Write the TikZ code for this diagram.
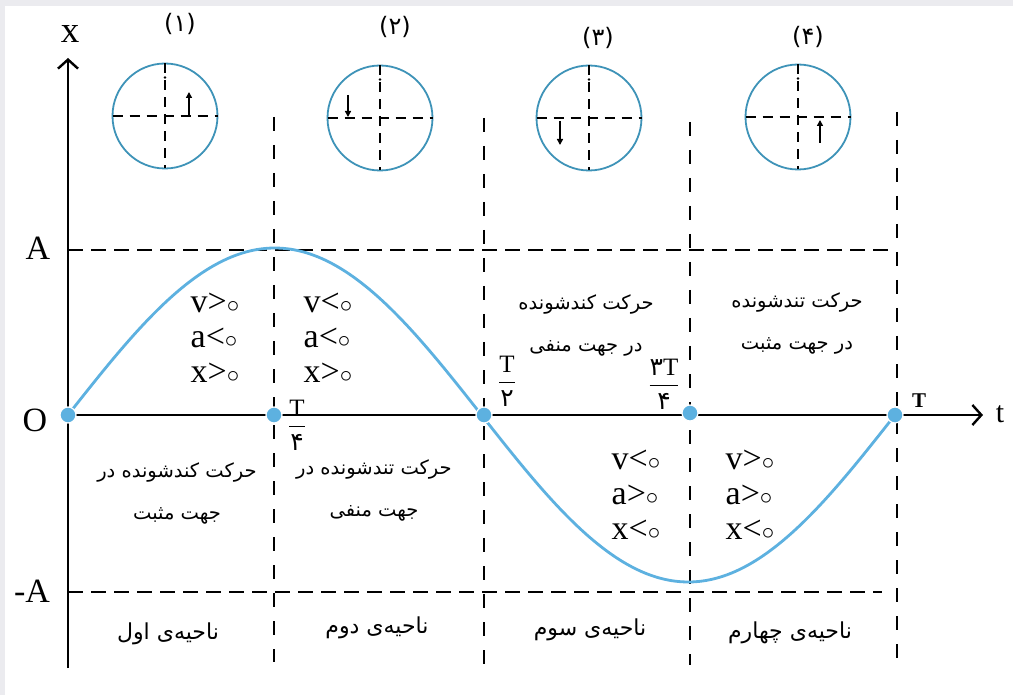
\documentclass[tikz,border=0pt]{standalone}
\usepackage{amsmath}
\usepackage{fontspec}
\setmainfont{Liberation Serif}
\newfontfamily\fa[Script=Arabic]{DejaVu Sans}
\TeXXeTstate=1
\usetikzlibrary{arrows.meta,calc}
\definecolor{curveblue}{HTML}{5DB1E0}
\definecolor{circblue}{HTML}{3E93B8}
\definecolor{framegray}{HTML}{EBEBEF}
\begin{document}
\begin{tikzpicture}[x=1pt,y=-1pt,
  axisline/.style={line width=2.4pt,-{Straight Barb[length=9pt,width=20pt,line width=2.4pt]}},
  divline/.style={line width=2.4pt,dash pattern=on 14pt off 14pt},
  hline/.style={line width=2.4pt,dash pattern=on 15pt off 8pt},
  circ/.style={circle,draw=circblue,line width=1.8pt,minimum size=105pt,inner sep=0pt,outer sep=0pt},
  diam/.style={line width=2pt,dash pattern=on 10pt off 7pt},
  smallarr/.style={line width=2pt,-{Triangle[length=6pt,width=6pt]}},
  dotpt/.style={circle,fill=curveblue,draw=white,line width=1.2pt,minimum size=16pt,inner sep=0pt},
  latin/.style={font=\fontsize{34}{34}\selectfont,inner sep=0pt},
  rel/.style={font=\fontsize{34}{35}\selectfont,align=left,inner sep=0pt},
  motion/.style={font=\fa\fontsize{19.5}{42}\selectfont,align=center,inner sep=0pt},
  region/.style={font=\fa\fontsize{22}{24}\selectfont,inner sep=0pt},
  clabel/.style={font=\fa\fontsize{24}{26}\selectfont,inner sep=0pt},
  frac/.style={font=\fontsize{25}{25}\selectfont,inner sep=0pt}]

% frame / background
\fill[framegray] (0,0) rectangle (1013,695);
\fill[white] (5,6) rectangle (1013,695);
\useasboundingbox (0,0) rectangle (1013,695);

% key coordinates
\coordinate (O) at (68,415);
\coordinate (ybot) at (68,668);
\coordinate (ytop) at (68,58);
\coordinate (tend) at (983,415);
\coordinate (Aleft) at (68,250);
\coordinate (Aright) at (893,250);
\coordinate (mAleft) at (68,592);
\coordinate (mAright) at (882,592);
\coordinate (v1t) at (274,117); \coordinate (v1b) at (274,662);
\coordinate (v2t) at (484,118); \coordinate (v2b) at (484,665);
\coordinate (v3t) at (690,122); \coordinate (v3b) at (690,665);
\coordinate (v4t) at (897,112); \coordinate (v4b) at (897,662);

% dashed guides
\draw[hline] (Aleft) -- (Aright);
\draw[hline] (mAleft) -- (mAright);
\draw[divline] (v1t) -- (v1b);
\draw[divline] (v2t) -- (v2b);
\draw[divline] (v3t) -- (v3b);
\draw[divline] (v4t) -- (v4b);

% axes
\draw[axisline] (ybot) -- (ytop);
\draw[axisline] (O) -- (tend);

% curve
\draw[curveblue,line width=2.8pt] plot[domain=0:1,samples=120,smooth] ({68+827*\x},{415-167*sin(360*\x)});

% points
\node[dotpt] (d0) at (68,415) {};
\node[dotpt] (d1) at (274,415) {};
\node[dotpt] (d2) at (484,415) {};
\node[dotpt] (d3) at (690,413) {};
\node[dotpt] (d4) at (895,415) {};

% axis labels
\node[font=\fontsize{37}{37}\selectfont,inner sep=0pt] (lx) at (70,34) {x};
\node[latin] (lA) at (38,248) {A};
\node[latin] (lO) at (35,420) {O};
\node[latin] (lmA) at (32,591) {-A};
\node[font=\fontsize{30}{30}\selectfont,inner sep=0pt] (lt) at (1000,414) {t};

% fractions
\node[frac] (fq1) at (297,425) {$\dfrac{\text{T}}{\text{\fa ۴}}$};
\node[frac] (fq2) at (507,381) {$\dfrac{\text{T}}{\text{\fa ۲}}$};
\node[frac] (fq3) at (664,384) {$\dfrac{\text{\fa ۳}\text{T}}{\text{\fa ۴}}$};
\node[font=\fontsize{21}{21}\selectfont\bfseries,inner sep=0pt] (fT) at (919,401) {T};

% circles
\node[circ] (c1) at (165,116) {};
\node[circ] (c2) at (380,118) {};
\node[circ] (c3) at (589,118) {};
\node[circ] (c4) at (798,117) {};
\foreach \c in {c1,c2,c3,c4}{
  \draw[diam] (\c.west) -- (\c.east);
  \draw[diam] (\c.north) -- (\c.south);
  \fill ([yshift=-14pt]\c.north) circle (1.3pt);
}
\coordinate (a1s) at ($(c1)+(24,0)$);
\coordinate (a1e) at ($(c1)+(24,-24)$);
\coordinate (a2s) at ($(c2)+(-32,-23)$);
\coordinate (a2e) at ($(c2)+(-32,-1)$);
\coordinate (a3s) at ($(c3)+(-29,3)$);
\coordinate (a3e) at ($(c3)+(-29,27)$);
\coordinate (a4s) at ($(c4)+(22,26)$);
\coordinate (a4e) at ($(c4)+(22,3)$);
\draw[smallarr] (a1s) -- (a1e);
\draw[smallarr] (a2s) -- (a2e);
\draw[smallarr] (a3s) -- (a3e);
\draw[smallarr] (a4s) -- (a4e);

% circle labels
\node[clabel] (n1) at (180,24) {(۱)};
\node[clabel] (n2) at (395,27) {(۲)};
\node[clabel] (n3) at (598,38) {(۳)};
\node[clabel] (n4) at (808,37) {(۴)};

% sign relations
\node[rel] (s1) at (215,338) {v>$\circ$\\a<$\circ$\\x>$\circ$};
\node[rel] (s2) at (328,338) {v<$\circ$\\a<$\circ$\\x>$\circ$};
\node[rel] (s3) at (636,495) {v<$\circ$\\a>$\circ$\\x<$\circ$};
\node[rel] (s4) at (750,495) {v>$\circ$\\a>$\circ$\\x<$\circ$};

% motion descriptions
\node[motion] (m1) at (177,493) {\beginR حرکت کندشونده در\endR\\\beginR جهت مثبت\endR};
\node[motion] (m2) at (374,490) {\beginR حرکت تندشونده در\endR\\\beginR جهت منفی\endR};
\node[motion] (m3) at (586,325) {\beginR حرکت کندشونده\endR\\\beginR در جهت منفی\endR};
\node[motion] (m4) at (797,323) {\beginR حرکت تندشونده\endR\\\beginR در جهت مثبت\endR};

% region names
\node[region] (r1) at (168,634) {\beginR ناحیه‌ی اول\endR};
\node[region] (r2) at (377,628) {\beginR ناحیه‌ی دوم\endR};
\node[region] (r3) at (590,630) {\beginR ناحیه‌ی سوم\endR};
\node[region] (r4) at (790,633) {\beginR ناحیه‌ی چهارم\endR};
\end{tikzpicture}
\end{document}
